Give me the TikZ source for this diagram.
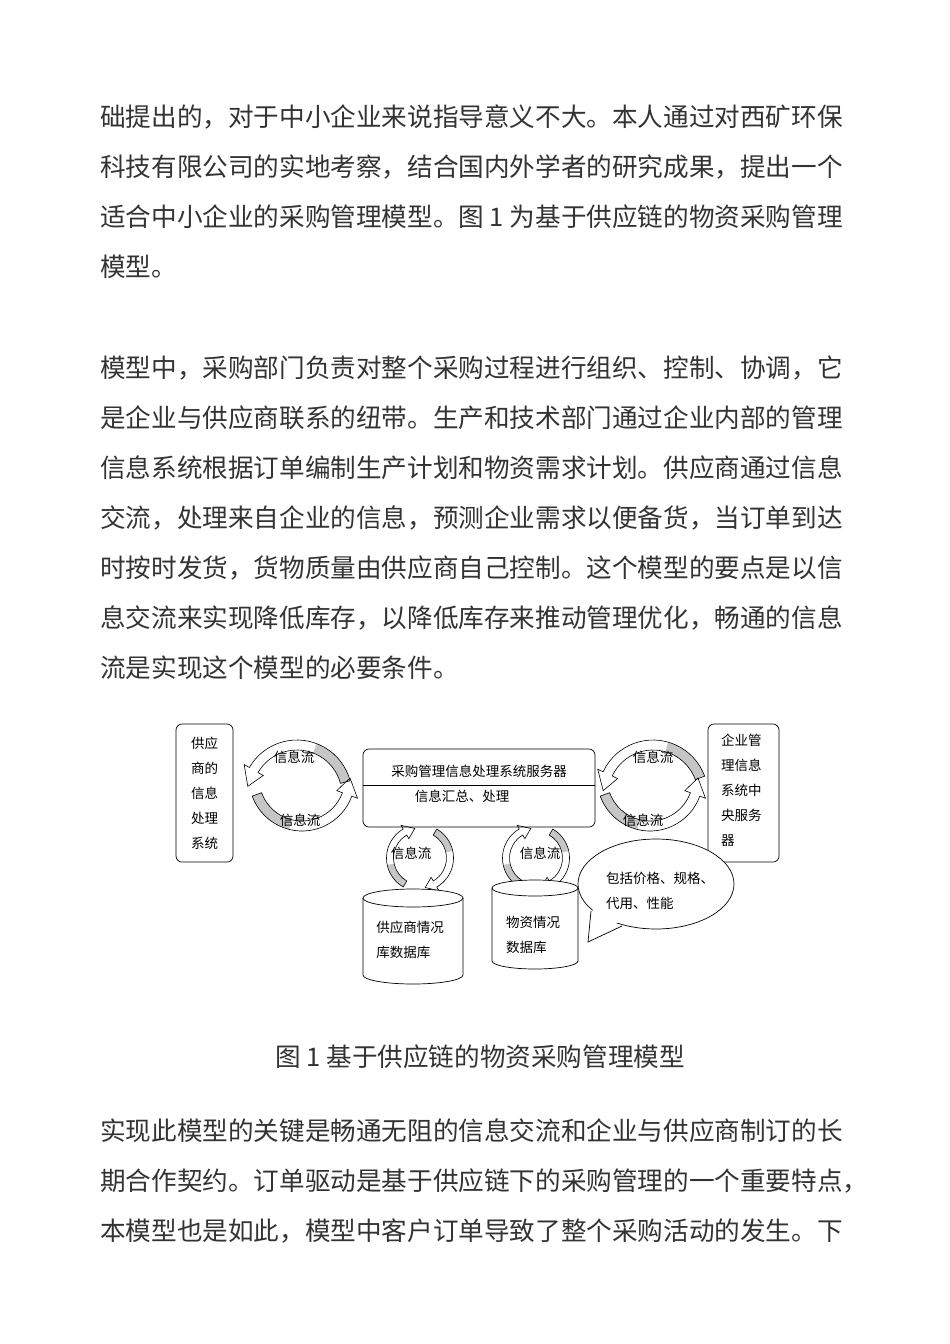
\documentclass[tikz,border=0pt]{standalone}
\usepackage{fontspec}
\setmainfont{Noto Sans CJK SC}
\usetikzlibrary{calc}
\newcommand\curvarrow[7]{% cx cy rm w a1 a2 dir
  \pgfmathsetmacro\ri{#3-#4/2}\pgfmathsetmacro\ro{#3+#4/2}%
  \pgfmathsetmacro\bi{#3-#4*1.1}\pgfmathsetmacro\bo{#3+#4*1.1}%
  \pgfmathsetmacro\at{#6+#7*20}\pgfmathsetmacro\am{#5+(#6-#5)*0.4}%
  \fill[gray!45] ($(#1,#2)+(#5:\ri pt)$) arc[start angle=#5,end angle=\am,radius=\ri pt] -- ($(#1,#2)+(\am:\ro pt)$) arc[start angle=\am,end angle=#5,radius=\ro pt] -- cycle;
  \draw[line width=0.6pt] ($(#1,#2)+(#5:\ri pt)$) arc[start angle=#5,end angle=#6,radius=\ri pt] -- ($(#1,#2)+(#6:\bi pt)$) -- ($(#1,#2)+(\at:#3 pt)$) -- ($(#1,#2)+(#6:\bo pt)$) -- ($(#1,#2)+(#6:\ro pt)$) arc[start angle=#6,end angle=#5,radius=\ro pt] -- cycle;
}
\begin{document}
\begin{tikzpicture}[x=1pt,y=-1pt,
  body/.style={anchor=west,inner sep=0pt,font=\fontsize{25.6}{30}\selectfont,text=black!80},
  small/.style={inner sep=0pt,font=\fontsize{13.5}{25}\selectfont},
  box/.style={draw,rounded corners=6pt,line width=0.7pt}]
\useasboundingbox (0,0) rectangle (950,1344);
\fill[white] (0,0) rectangle (950,1344);
\node[body] (l1) at (100,117) {础提出的，对于中小企业来说指导意义不大。本人通过对西矿环保};
\node[body] (l2) at (100,167) {科技有限公司的实地考察，结合国内外学者的研究成果，提出一个};
\node[body] (l3) at (100,217) {适合中小企业的采购管理模型。图 1 为基于供应链的物资采购管理};
\node[body] (l4) at (100,267) {模型。};
\node[body] (m1) at (100,368) {模型中，采购部门负责对整个采购过程进行组织、控制、协调，它};
\node[body] (m2) at (100,418) {是企业与供应商联系的纽带。生产和技术部门通过企业内部的管理};
\node[body] (m3) at (100,468) {信息系统根据订单编制生产计划和物资需求计划。供应商通过信息};
\node[body] (m4) at (100,518) {交流，处理来自企业的信息，预测企业需求以便备货，当订单到达};
\node[body] (m5) at (100,568) {时按时发货，货物质量由供应商自己控制。这个模型的要点是以信};
\node[body] (m6) at (100,618) {息交流来实现降低库存，以降低库存来推动管理优化，畅通的信息};
\node[body] (m7) at (100,668) {流是实现这个模型的必要条件。};
\node[body,anchor=center] (cap) at (480,1057) {图 1 基于供应链的物资采购管理模型};
\node[body] (n1) at (100,1131) {实现此模型的关键是畅通无阻的信息交流和企业与供应商制订的长};
\node[body] (n2) at (100,1181) {期合作契约。订单驱动是基于供应链下的采购管理的一个重要特点，};
\node[body] (n3) at (100,1231) {本模型也是如此，模型中客户订单导致了整个采购活动的发生。下};
% diagram boxes
\draw[box] (176,724) rectangle (233,862);
\node[small,align=center] (sup) at (204.5,793) {供应\\商的\\信息\\处理\\系统};
\draw[box] (708,724) rectangle (779,862);
\node[small,align=left,anchor=north west] (ent) at (721,734) {企业管\\理信息\\系统中\\央服务\\器};
\draw[box] (363,749) rectangle (595,827);
\draw[line width=0.7pt] (363,785) -- (595,785);
\node[small] (srv) at (479,771) {采购管理信息处理系统服务器};
\node[small] (proc) at (462,796) {信息汇总、处理};
% curved arrows
\curvarrow{297}{795}{50}{10}{15}{150}{1}
\curvarrow{302}{778}{48}{10}{200}{340}{1}
\curvarrow{653}{795}{50}{10}{20}{155}{1}
\curvarrow{650}{778}{48}{10}{200}{340}{1}
\curvarrow{420}{858}{30}{7}{240}{120}{-1}
\curvarrow{420}{858}{30}{7}{60}{-60}{-1}
\curvarrow{536}{858}{30}{7}{240}{120}{-1}
\curvarrow{536}{858}{30}{7}{60}{-60}{-1}
\node[small] (f1) at (294,757) {信息流};
\node[small] (f2) at (300,820) {信息流};
\node[small] (f3) at (653,757) {信息流};
\node[small] (f4) at (643,820) {信息流};
\node[small] (f5) at (411,853) {信息流};
\node[small] (f6) at (540,853) {信息流};
% cylinders
\draw[line width=0.7pt,fill=white] (363,898) -- (363,975) arc[start angle=180,end angle=360,x radius=50pt,y radius=9pt] -- (463,898);
\draw[line width=0.7pt,fill=white] (413,898) ellipse[x radius=50pt,y radius=9pt];
\node[small,align=left] (db1) at (410,940) {供应商情况\\库数据库};
\draw[line width=0.7pt,fill=white] (492,888) -- (492,961) arc[start angle=180,end angle=360,x radius=43pt,y radius=8pt] -- (578,888);
\draw[line width=0.7pt,fill=white] (535,888) ellipse[x radius=43pt,y radius=8pt];
\node[small,align=left] (db2) at (533,935) {物资情况\\数据库};
% callout
\draw[line width=0.7pt,fill=white] (656,884) ellipse[x radius=78pt,y radius=45pt];
\fill[white] (593,908) -- (589,940) -- (620,921) -- cycle;
\draw[line width=0.7pt] (591,911) -- (588,942) -- (622,926);
\node[small,align=left] (note) at (660,891) {包括价格、规格、\\代用、性能};
\end{tikzpicture}
\end{document}
